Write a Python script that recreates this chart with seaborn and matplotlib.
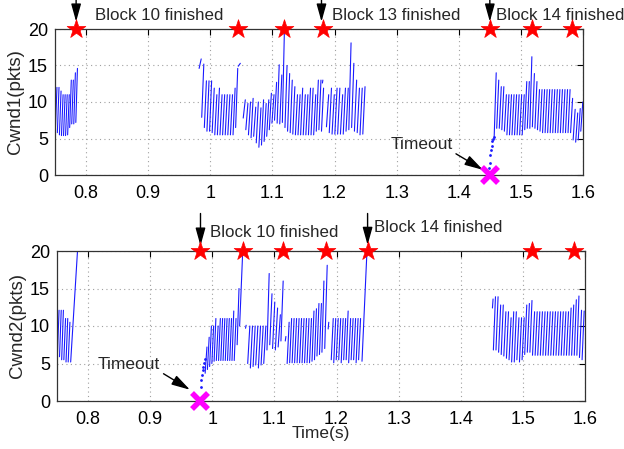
import numpy as np
import pandas as pd
import matplotlib
matplotlib.use("Agg")
import matplotlib.pyplot as plt
import seaborn as sns

# ---------------- data ----------------
# Each congestion-avoidance burst: first tooth time, tooth spacing (s),
# window at each loss (peak) and the window right after halving (trough).

# Flow 1
f1_a_t0, f1_a_dt = 0.7505, 0.0033
f1_a_peaks = [12, 12, 11.5, 11, 11, 11, 11, 13, 13, 14, 14.6]
f1_a_troughs = [6, 5.8, 5.5, 5.4, 5.4, 5.4, 5.5, 6.5, 7, 7, 7.2]

f1_b_t0, f1_b_dt = 0.982, 0.0042
f1_b_peaks = [15.9, 15.2, 12.9, 12.9, 12.9, 11.9, 11, 11.9, 11, 11, 11, 11, 11, 11.9, 14.6, 15.3]
f1_b_troughs = [14.6, 7.9, 6.5, 6, 6, 5.8, 5.5, 5.5, 5.5, 5.5, 5.5, 5.5, 5.5, 5.5, 6.5, 14.9]

f1_c_t0, f1_c_dt = 1.053, 0.0042
f1_c_peaks = [10.3, 9.8, 10, 10.5, 9.3, 10, 9.2, 10.3, 9.8, 10.3, 11.2, 11, 12.7, 15.1, 13.7, 20,
              15, 13.9, 13, 12.1, 11, 11, 11.9, 11, 11, 11.9, 11.9, 11, 13, 13, 11.9]
f1_c_troughs = [7.8, 6.2, 5.5, 5.1, 5.3, 4.4, 3.8, 4.1, 4.6, 5.3, 6.2, 7.1, 7.5, 7.1, 7, 7.2,
                6.5, 6, 5.8, 5.6, 5.5, 5.5, 5.5, 5.5, 5.5, 5.5, 5.5, 5.5, 6, 6.2, 6]

f1_d_t0, f1_d_dt = 1.187, 0.0045
f1_d_peaks = [11, 11.9, 11, 11.9, 11.9, 11, 11.9, 11.9, 18.1, 15.3, 13, 11.9, 11.9, 12.1]
f1_d_troughs = [6.6, 5.8, 5.6, 5.6, 5.6, 5.6, 5.6, 6, 6.2, 6.5, 6, 5.8, 5.5, 5.6]

f1_e_t0, f1_e_dt = 1.457, 0.0041
f1_e_peaks = [14, 13, 12.1, 12.1, 11, 11, 11, 11, 11, 11, 11, 11, 12.8, 12.8, 16.2, 13.9, 12.8,
              11.7, 11.7, 11.7, 11.7, 11.7, 11.7, 11.7, 11.7, 11.7, 11.7, 11.7, 11.7, 11.7,
              10.5, 9, 8.5, 9.1, 10]
f1_e_troughs = [5.2, 6.4, 6.4, 6.2, 6, 5.5, 5.5, 5.5, 5.5, 5.5, 5.5, 5.5, 6.2, 6.4, 6.4, 6.6, 6.4,
                6.2, 6, 5.8, 5.8, 5.8, 5.8, 5.8, 5.8, 5.8, 5.8, 5.8, 5.8, 5.8, 5.8, 4.8, 4.5, 4.8, 6]

# isolated window jumps: (t start, cwnd start, t end, cwnd end)
f1_jumps = [(1.1805, 12.6, 1.1812, 13.0)]

# slow start after the retransmission timeout
f1_ss_t = [1.4490, 1.4500, 1.4510, 1.4520, 1.4530, 1.4540, 1.4550, 1.4560]
f1_ss_w = [0.9, 1.6, 2.7, 3.4, 4.0, 4.6, 5.0, 5.2]

f1_blocks = [0.784, 1.045, 1.118, 1.181, 1.450, 1.518, 1.582]
f1_timeout = 1.450

# Flow 2
f2_a_t0, f2_a_dt = 0.7505, 0.0035
f2_a_peaks = [12.1, 12.1, 12.1, 11, 11, 10.5]
f2_a_troughs = [5.9, 5.9, 5.5, 5.5, 5.2, 5.2]

f2_b_t0, f2_b_dt = 0.9885, 0.0036
f2_b_peaks = [7.2, 8.5, 10, 10, 11, 10, 11, 11, 11, 11, 11, 11, 12, 11]
f2_b_troughs = [3.7, 4.2, 4.6, 5, 5.3, 5.4, 5.4, 5.4, 5.4, 5.4, 5.4, 5.4, 5.4, 5.4]

f2_c_t0, f2_c_dt = 1.057, 0.0043
f2_c_peaks = [10, 10, 10, 10, 10, 10, 10]
f2_c_troughs = [5, 4.4, 4.6, 4.8, 4.4, 4.8, 5]

f2_d_t0, f2_d_dt = 1.088, 0.0045
f2_d_peaks = [17, 14.3, 13.2, 12.4, 11.5, 16]
f2_d_troughs = [6.8, 7.5, 7, 6.8, 7.2, 8]

f2_e_t0, f2_e_dt = 1.1205, 0.0040
f2_e_peaks = [10.5, 11, 11, 11, 11, 11, 11, 11, 11, 11, 12, 12.3, 13, 13, 16]
f2_e_troughs = [5, 5.1, 5.1, 5.1, 5.1, 5.1, 5.1, 5.1, 5.1, 5.1, 5.3, 5.5, 6, 6.2, 6.5]

f2_f_t0, f2_f_dt = 1.1915, 0.0040
f2_f_peaks = [11, 11, 11, 11, 11, 11, 12, 11, 11, 11, 11, 11]
f2_f_troughs = [5.5, 5.1, 5.5, 5.5, 5.1, 5.5, 5.5, 5.1, 5.5, 5.5, 5.1, 5.5]

f2_g_t0, f2_g_dt = 1.4525, 0.0042
f2_g_peaks = [13.9, 13.9, 12.8, 12.8, 11.9, 11.9, 11.1, 11.9, 11.9, 11.1, 11.1, 11.1, 12.8, 13,
              13.4, 11.9, 11.9, 11.9, 11.9, 11.9, 11.9, 11.9, 11.9, 11.9, 11.9, 11.9, 11.9, 11.9,
              11.9, 12.4, 12.8, 13.5, 14, 12.1, 12]
f2_g_troughs = [6.8, 6.8, 6.5, 6.2, 6, 5.7, 5.5, 5.2, 5.2, 5.5, 5.2, 5.5, 6.2, 6.5, 6.5, 6.1,
                6.1, 6.1, 6.1, 6.1, 6.1, 6.1, 6.1, 6.1, 6.1, 6.1, 6.1, 6.1, 6.1, 6.1, 6.1, 6.1,
                6.1, 5.8, 5.5]

f2_jumps = [(0.7720, 5.2, 0.7830, 20.0),
            (1.0400, 7.5, 1.0430, 15.0),
            (1.0440, 10.0, 1.0490, 20.0),
            (1.0535, 9.7, 1.0545, 10.1),
            (1.1175, 8.0, 1.1185, 8.6),
            (1.1810, 7.0, 1.1850, 18.1),
            (1.1865, 9.6, 1.1875, 10.5),
            (1.2410, 5.3, 1.2490, 20.0),
            (1.4510, 12.4, 1.4520, 13.6)]

f2_ss_t = [0.9815, 0.9825, 0.9835, 0.9845, 0.9855, 0.9865, 0.9875]
f2_ss_w = [1.9, 2.8, 3.5, 4.1, 4.6, 5.1, 5.6]

f2_blocks = [0.981, 1.049, 1.114, 1.183, 1.250, 1.515, 1.583]
f2_timeout = 0.981

x_ticks = [0.8, 0.9, 1.0, 1.1, 1.2, 1.3, 1.4, 1.5, 1.6]
x_ticklabels = ["0.8", "0.9", "1", "1.1", "1.2", "1.3", "1.4", "1.5", "1.6"]
y_ticks = [0, 5, 10, 15, 20]

RISE = 0.8  # fraction of a tooth spent growing the window


def teeth(bursts, jumps):
    rows = []
    uid = 0
    for t0, dt, peaks, troughs in bursts:
        for i, (p, q) in enumerate(zip(peaks, troughs)):
            ts = t0 + i * dt
            rows.append((ts, q, uid))
            rows.append((ts + RISE * dt, p, uid))
            uid += 1
    for ta, wa, tb, wb in jumps:
        rows.append((ta, wa, uid))
        rows.append((tb, wb, uid))
        uid += 1
    return pd.DataFrame(rows, columns=["t", "cwnd", "tooth"])


flow1 = teeth([(f1_a_t0, f1_a_dt, f1_a_peaks, f1_a_troughs),
               (f1_b_t0, f1_b_dt, f1_b_peaks, f1_b_troughs),
               (f1_c_t0, f1_c_dt, f1_c_peaks, f1_c_troughs),
               (f1_d_t0, f1_d_dt, f1_d_peaks, f1_d_troughs),
               (f1_e_t0, f1_e_dt, f1_e_peaks, f1_e_troughs)], f1_jumps)
flow2 = teeth([(f2_a_t0, f2_a_dt, f2_a_peaks, f2_a_troughs),
               (f2_b_t0, f2_b_dt, f2_b_peaks, f2_b_troughs),
               (f2_c_t0, f2_c_dt, f2_c_peaks, f2_c_troughs),
               (f2_d_t0, f2_d_dt, f2_d_peaks, f2_d_troughs),
               (f2_e_t0, f2_e_dt, f2_e_peaks, f2_e_troughs),
               (f2_f_t0, f2_f_dt, f2_f_peaks, f2_f_troughs),
               (f2_g_t0, f2_g_dt, f2_g_peaks, f2_g_troughs)], f2_jumps)

# ---------------- style ----------------
sns.set_style("white")
plt.rcParams["font.family"] = ["Liberation Sans", "DejaVu Sans"]
plt.rcParams["font.size"] = 12

fig = plt.figure(figsize=(6.24, 4.49), dpi=100)
ax1 = fig.add_axes([55 / 624, 1 - 175 / 449, 528 / 624, 146 / 449])
ax2 = fig.add_axes([57 / 624, 1 - 401 / 449, 528 / 624, 150 / 449])

LINE_BLUE = "#1a1aff"


def draw_panel(ax, df, ss_t, ss_w, blocks, timeout, ylabel):
    sns.lineplot(data=df, x="t", y="cwnd", units="tooth", estimator=None, sort=False,
                 color=LINE_BLUE, linewidth=0.8, ax=ax, legend=False)
    sns.scatterplot(x=ss_t, y=ss_w, color=LINE_BLUE, s=4, linewidth=0, ax=ax)
    sns.scatterplot(x=blocks, y=[20] * len(blocks), marker="*", s=200, color="red",
                    edgecolor="red", linewidth=0.5, clip_on=False, zorder=6, ax=ax)
    ax.plot([timeout], [0], marker="x", color="#ff00ff", markersize=12, mew=4,
            clip_on=False, zorder=6)
    ax.set_xlim(0.75, 1.6)
    ax.set_ylim(0, 20)
    ax.set_xticks(x_ticks)
    ax.set_xticklabels(x_ticklabels)
    ax.set_yticks(y_ticks)
    ax.grid(True, linestyle=(0, (1, 3)), color="#a0a0a0", linewidth=0.8)
    ax.tick_params(direction="in", length=4, width=0.8, top=True, right=True,
                   labelsize=13, colors="black")
    ax.tick_params(axis="x", pad=7)
    ax.tick_params(axis="y", pad=5)
    for s in ax.spines.values():
        s.set_color("#333333")
        s.set_linewidth(0.9)
        s.set_visible(True)
    ax.set_ylabel(ylabel, fontsize=13.5, labelpad=3)
    ax.set_xlabel("")


draw_panel(ax1, flow1, f1_ss_t, f1_ss_w, f1_blocks, f1_timeout, "Cwnd1(pkts)")
draw_panel(ax2, flow2, f2_ss_t, f2_ss_w, f2_blocks, f2_timeout, "Cwnd2(pkts)")
ax2.set_xlabel("Time(s)", fontsize=12.5)
ax2.xaxis.set_label_coords(321 / 624, 1 - 426 / 449, transform=fig.transFigure)

arrow_kw = dict(arrowstyle="-|>,head_width=0.25,head_length=0.9", color="black",
                lw=1.0, shrinkA=0, shrinkB=0)


def block_note(ax, t_arrow, y_top, y_tip, t_text, y_text, text):
    ax.annotate("", xy=(t_arrow, y_tip), xytext=(t_arrow, y_top),
                arrowprops=arrow_kw, annotation_clip=False)
    ax.text(t_text, y_text, text, ha="left", va="center", fontsize=12.2, clip_on=False)


block_note(ax1, 0.784, 24.2, 21.0, 0.8145, 21.9, "Block 10 finished")
block_note(ax1, 1.179, 24.2, 21.0, 1.196, 21.9, "Block 13 finished")
block_note(ax1, 1.450, 24.2, 21.0, 1.4597, 21.9, "Block 14 finished")
block_note(ax2, 0.981, 25.0, 20.7, 0.996, 22.5, "Block 10 finished")
block_note(ax2, 1.250, 25.0, 20.8, 1.261, 23.1, "Block 14 finished")

ax1.annotate("Timeout", xy=(1.439, 0.7), xytext=(1.290, 4.2), fontsize=12.5,
             ha="left", va="center", arrowprops=dict(arrowstyle="-|>,head_width=0.25,head_length=0.9",
                                                     color="black", lw=1.0, shrinkA=0, shrinkB=0,
                                                     relpos=(1.0, 0.0)))
ax2.annotate("Timeout", xy=(0.964, 1.5), xytext=(0.816, 4.9), fontsize=12.5,
             ha="left", va="center", arrowprops=dict(arrowstyle="-|>,head_width=0.25,head_length=0.9",
                                                     color="black", lw=1.0, shrinkA=0, shrinkB=0,
                                                     relpos=(1.0, 0.0)))

fig.savefig("out.png", dpi=100, facecolor="white")
